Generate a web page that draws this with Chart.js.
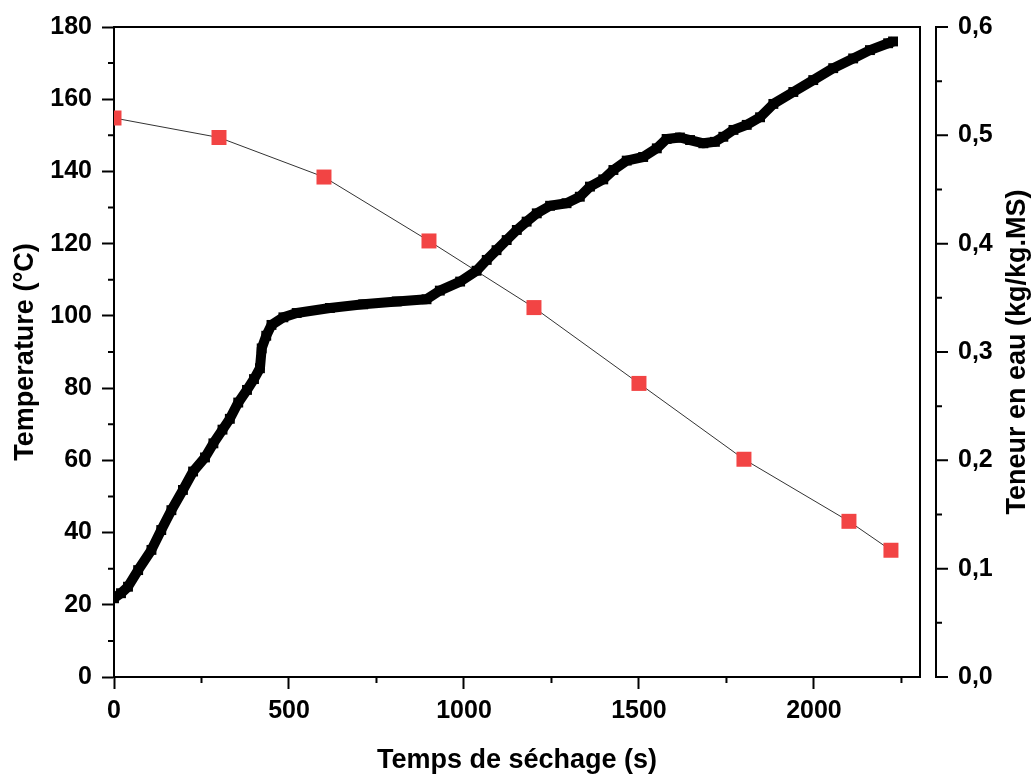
<!DOCTYPE html>
<html>
<head>
<meta charset="utf-8">
<script src="https://cdn.jsdelivr.net/npm/chart.js@4/dist/chart.umd.min.js"></script>
<style>
  html, body { margin: 0; padding: 0; background: #fff; }
  #wrap { width: 1034px; height: 774px; }
</style>
</head>
<body>
<div id="wrap"><canvas id="chart" width="1034" height="774"></canvas></div>
<script>
// temperature readings (left axis)
const tempTime = [0, 20, 40, 69, 107, 135, 164, 197, 226, 260, 284, 310, 331, 355, 380, 400, 417, 422, 435, 450,
  484, 522, 617, 712, 808, 893, 931, 989, 1036, 1065, 1093, 1122, 1151, 1179, 1208, 1246, 1293, 1331, 1360, 1398,
  1427, 1465, 1512, 1551, 1579, 1617, 1646, 1684, 1717, 1741, 1770, 1808, 1846, 1884, 1941, 1998, 2055, 2112, 2160, 2212, 2226];
const tempValue = [21.8, 23.2, 25.0, 29.6, 35.2, 40.7, 46.2, 51.8, 56.9, 60.8, 64.7, 68.5, 71.5, 76.0, 79.5, 82.5, 85.5, 91.0, 94.5, 97.5,
  99.6, 100.8, 102.2, 103.2, 104.0, 104.6, 107.0, 109.5, 112.5, 115.5, 118.2, 121.0, 123.8, 126.1, 128.4, 130.5, 131.2, 133.0, 135.8, 137.8,
  140.4, 143.0, 144.0, 146.4, 149.0, 149.4, 148.7, 147.8, 148.2, 149.6, 151.5, 152.9, 155.0, 158.7, 162.0, 165.3, 168.6, 171.3, 173.6, 175.5, 176.0];

// water content (right axis)
const moistTime = [0, 300, 600, 900, 1200, 1500, 1800, 2100, 2220];
const moistValue = [0.516, 0.498, 0.4615, 0.4025, 0.341, 0.271, 0.201, 0.1437, 0.117];

// tick labels
const xTicks = [0, 500, 1000, 1500, 2000];
const yTicks = [0, 20, 40, 60, 80, 100, 120, 140, 160, 180];
const y2Ticks = [0, 0.1, 0.2, 0.3, 0.4, 0.5, 0.6];
const y2Labels = ['0,0', '0,1', '0,2', '0,3', '0,4', '0,5', '0,6'];
const y2Title = 'Teneur en eau (kg/kg.MS)';

const tickFont = { family: 'Liberation Sans, Arial, sans-serif', size: 25, weight: 'bold' };
const titleFont = { family: 'Liberation Sans, Arial, sans-serif', size: 27, weight: 'bold', lineHeight: 1 };

// minor ticks, box edges and the detached right axis
const framePlugin = {
  id: 'frame',
  afterDraw(chart) {
    const { ctx, chartArea: a, scales } = chart;
    const axisX = a.right + 16;
    ctx.save();
    ctx.strokeStyle = '#000';
    ctx.lineWidth = 2;
    ctx.beginPath();
    ctx.moveTo(a.left, a.top);
    ctx.lineTo(a.right, a.top);
    ctx.lineTo(a.right, a.bottom + 1);
    // x minor ticks
    xTicks.forEach(v => {
      const px = scales.x.getPixelForValue(v + 250);
      if (px < a.right) { ctx.moveTo(px, a.bottom); ctx.lineTo(px, a.bottom + 6); }
    });
    // y minor ticks
    yTicks.slice(1).forEach(v => {
      const py = scales.y.getPixelForValue(v - 10);
      ctx.moveTo(a.left, py); ctx.lineTo(a.left - 6, py);
    });
    // right axis line + ticks
    ctx.moveTo(axisX, a.top - 1);
    ctx.lineTo(axisX, a.bottom + 1);
    y2Ticks.forEach((v, i) => {
      const py = scales.y2.getPixelForValue(v);
      ctx.moveTo(axisX - 1, py); ctx.lineTo(axisX + 12, py);
      if (i > 0) {
        const pm = scales.y2.getPixelForValue(v - 0.05);
        ctx.moveTo(axisX - 1, pm); ctx.lineTo(axisX + 6, pm);
      }
    });
    ctx.stroke();

    // right title, reading bottom to top
    ctx.translate(1018, (a.top + a.bottom) / 2);
    ctx.rotate(-Math.PI / 2);
    ctx.font = 'bold 27px "Liberation Sans", Arial, sans-serif';
    ctx.fillStyle = '#000';
    ctx.textAlign = 'center';
    ctx.textBaseline = 'middle';
    ctx.fillText(y2Title, 0, 0);
    ctx.restore();
  }
};

new Chart(document.getElementById('chart'), {
  type: 'line',
  data: {
    datasets: [{
      label: 'Temperature',
      data: tempTime.map((t, i) => ({ x: t, y: tempValue[i] })),
      yAxisID: 'y',
      borderColor: '#000',
      borderWidth: 10,
      borderJoinStyle: 'round',
      pointStyle: 'rect',
      pointRadius: 7,
      pointBackgroundColor: '#000',
      pointBorderWidth: 0,
      tension: 0
    }, {
      label: 'Teneur en eau',
      data: moistTime.map((t, i) => ({ x: t, y: moistValue[i] })),
      yAxisID: 'y2',
      borderColor: '#333',
      borderWidth: 1,
      pointStyle: 'rect',
      pointRadius: 10.6,
      pointBackgroundColor: '#f24444',
      pointBorderWidth: 0,
      tension: 0
    }]
  },
  options: {
    responsive: false,
    animation: false,
    layout: { padding: { top: 27, left: 0, right: 0, bottom: 0 } },
    plugins: { legend: { display: false }, tooltip: { enabled: false } },
    scales: {
      x: {
        type: 'linear',
        min: 0,
        max: 2303,
        afterBuildTicks: s => { s.ticks = xTicks.map(v => ({ value: v })); },
        afterFit: s => { s.height = 97; },
        grid: { display: true, drawOnChartArea: false, drawTicks: true, tickLength: 12, tickWidth: 2, tickColor: '#000' },
        border: { display: true, color: '#000', width: 2 },
        ticks: { font: tickFont, color: '#000', padding: 7, maxRotation: 0, callback: v => String(v) },
        title: { display: true, text: 'Temps de séchage (s)', font: titleFont, color: '#000', padding: 0 }
      },
      y: {
        position: 'left',
        min: 0,
        max: 180,
        afterBuildTicks: s => { s.ticks = yTicks.map(v => ({ value: v })); },
        afterFit: s => { s.width = 114; },
        grid: { display: true, drawOnChartArea: false, drawTicks: true, tickLength: 12, tickWidth: 2, tickColor: '#000' },
        border: { display: true, color: '#000', width: 2 },
        ticks: { font: tickFont, color: '#000', padding: 10, callback: v => String(v) },
        title: { display: true, text: 'Temperature (°C)', font: titleFont, color: '#000', padding: { top: 12, bottom: 0 } }
      },
      y2: {
        position: 'right',
        min: 0,
        max: 0.6,
        afterBuildTicks: s => { s.ticks = y2Ticks.map(v => ({ value: v })); },
        afterFit: s => { s.width = 114; },
        grid: { display: false, drawTicks: true, tickLength: 28 },
        border: { display: false },
        ticks: { font: tickFont, color: '#000', padding: 10, callback: (v, i) => y2Labels[i] },
        title: { display: false }
      }
    }
  },
  plugins: [framePlugin]
});
</script>
</body>
</html>
